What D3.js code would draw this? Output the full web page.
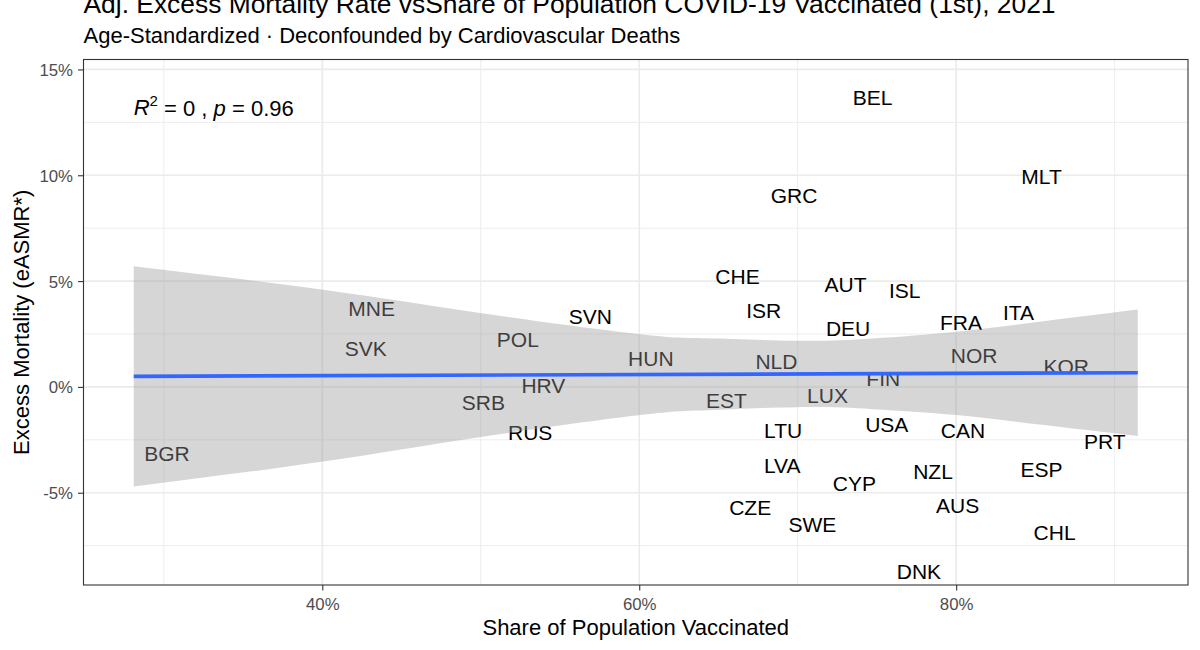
<!DOCTYPE html>
<html><head><meta charset="utf-8">
<script src="https://cdn.jsdelivr.net/npm/d3@7"></script>
<style>
body{margin:0;background:#fff}
svg{display:block;font-family:"Liberation Sans",Arial,Helvetica,sans-serif}
</style>
</head><body><svg id="c" width="1200" height="650"></svg>
<script>
// ---- data ----
const countries = ["BEL","MLT","GRC","CHE","AUT","ISL","ISR","DEU","FRA","ITA","HUN","NLD","NOR","KOR","FIN","EST","LUX","MNE","SVN","POL","SVK","HRV","SRB","RUS","BGR","LTU","USA","CAN","PRT","LVA","NZL","ESP","CYP","CZE","AUS","SWE","CHL","DNK"];
const vaccinated = [74.72,85.39,69.77,66.20,73.02,76.75,67.86,73.18,80.30,83.93,60.73,68.66,81.13,86.95,75.40,65.50,71.88,43.11,56.92,52.34,42.74,53.95,50.16,53.12,30.20,69.08,75.62,80.43,89.38,69.02,78.54,85.39,73.58,67.00,80.09,70.93,86.21,77.65];
const excess = [13.69,9.93,9.05,5.21,4.85,4.58,3.60,2.77,3.03,3.51,1.35,1.22,1.47,0.95,0.41,-0.62,-0.38,3.71,3.32,2.22,1.82,0.09,-0.75,-2.15,-3.14,-2.07,-1.75,-2.04,-2.60,-3.69,-4.01,-3.89,-4.56,-5.69,-5.58,-6.49,-6.89,-8.72];
const fitX = [28.1, 91.46];
const fitY = [0.50, 0.67];
const bandX  = [28.1, 40.06, 50.07, 60.04, 64.25, 69.92, 74.73, 80.01, 85.26, 91.46];
const bandHi = [5.70, 4.59, 3.48, 2.49, 2.30, 2.18, 2.29, 2.61, 3.08, 3.66];
const bandLo = [-4.70, -3.53, -2.36, -1.33, -1.10, -0.96, -1.05, -1.33, -1.78, -2.32];
const xTicks = [40, 60, 80];
const xMinor = [30, 50, 70, 90];
const yTicks = [-5, 0, 5, 10, 15];
const yMinor = [-7.5, -2.5, 2.5, 7.5, 12.5];
const xDomain = [24.93, 94.63];
const yDomain = [-9.36, 15.47];
const statPos = [28.1, 13.2];
const statR2 = "0", statP = "0.96";
const titleText = "Adj. Excess Mortality Rate vsShare of Population COVID-19 Vaccinated (1st), 2021";
const subtitleText = "Age-Standardized \u00b7 Deconfounded by Cardiovascular Deaths";
const xTitle = "Share of Population Vaccinated";
const yTitle = "Excess Mortality (eASMR*)";

// ---- layout ----
const P = {l: 83.5, r: 1188, t: 59.5, b: 585};
const svg = d3.select("#c");
const x = d3.scaleLinear().domain(xDomain).range([P.l, P.r]);
const y = d3.scaleLinear().domain(yDomain).range([P.b, P.t]);
const pct = d => d + "%";

svg.append("rect").attr("x", P.l).attr("y", P.t).attr("width", P.r - P.l).attr("height", P.b - P.t).attr("fill", "#fff");

const grid = svg.append("g");
grid.selectAll(".vmin").data(xMinor).join("line")
  .attr("x1", d => x(d)).attr("x2", d => x(d)).attr("y1", P.t).attr("y2", P.b)
  .attr("stroke", "#EBEBEB").attr("stroke-width", 0.9);
grid.selectAll(".hmin").data(yMinor).join("line")
  .attr("y1", d => y(d)).attr("y2", d => y(d)).attr("x1", P.l).attr("x2", P.r)
  .attr("stroke", "#EBEBEB").attr("stroke-width", 0.9);
grid.selectAll(".vmaj").data(xTicks).join("line")
  .attr("x1", d => x(d)).attr("x2", d => x(d)).attr("y1", P.t).attr("y2", P.b)
  .attr("stroke", "#EBEBEB").attr("stroke-width", 1.7);
grid.selectAll(".hmaj").data(yTicks).join("line")
  .attr("y1", d => y(d)).attr("y2", d => y(d)).attr("x1", P.l).attr("x2", P.r)
  .attr("stroke", "#EBEBEB").attr("stroke-width", 1.7);

// country labels
const rows = countries.map((c, i) => ({c, v: vaccinated[i], e: excess[i]}));
svg.append("g").selectAll("text").data(rows).join("text")
  .attr("x", d => x(d.v)).attr("y", d => y(d.e)).attr("dy", "0.36em")
  .attr("text-anchor", "middle").attr("font-size", 21).attr("fill", "#000")
  .text(d => d.c);

// confidence band
const band = bandX.map((bx, i) => ({x: bx, lo: bandLo[i], hi: bandHi[i]}));
svg.append("path").datum(band)
  .attr("d", d3.area().x(d => x(d.x)).y0(d => y(d.lo)).y1(d => y(d.hi)).curve(d3.curveNatural))
  .attr("fill", "#999999").attr("fill-opacity", 0.4);

// regression line
svg.append("path").datum(fitX.map((fx, i) => [fx, fitY[i]]))
  .attr("d", d3.line().x(d => x(d[0])).y(d => y(d[1])))
  .attr("stroke", "#3366FF").attr("stroke-width", 3.7).attr("fill", "none");

// stat label
const st = svg.append("text").attr("x", x(statPos[0])).attr("y", y(statPos[1])).attr("dy", "0.36em")
  .attr("font-size", 22).attr("fill", "#000");
st.append("tspan").attr("font-style", "italic").text("R");
st.append("tspan").attr("font-size", 15).attr("dy", "-0.62em").text("2");
st.append("tspan").attr("dy", "0.43em").text("\u00a0= 0 , ");
st.append("tspan").attr("font-style", "italic").text("p");
st.append("tspan").text("\u00a0= " + statP);

// panel border
svg.append("rect").attr("x", P.l).attr("y", P.t).attr("width", P.r - P.l).attr("height", P.b - P.t)
  .attr("fill", "none").attr("stroke", "#333333").attr("stroke-width", 1.1);

// axes
const xAxis = svg.append("g").attr("transform", `translate(0,${P.b})`)
  .call(d3.axisBottom(x).tickValues(xTicks).tickFormat(pct).tickSize(5.5).tickPadding(6));
const yAxis = svg.append("g").attr("transform", `translate(${P.l},0)`)
  .call(d3.axisLeft(y).tickValues(yTicks).tickFormat(pct).tickSize(5.5).tickPadding(5));
[xAxis, yAxis].forEach(a => {
  a.select(".domain").remove();
  a.selectAll(".tick line").attr("stroke", "#333333").attr("stroke-width", 1.1);
  a.selectAll(".tick text").attr("fill", "#4D4D4D").attr("font-size", 16.8)
   .attr("font-family", "'Liberation Sans',Arial,Helvetica,sans-serif");
});
xAxis.selectAll(".tick text").attr("dy", null).attr("y", 0).attr("transform", "translate(0,25.3)");
yAxis.selectAll(".tick text").attr("dy", "0.36em");

// titles
svg.append("text").attr("x", (P.l + P.r) / 2).attr("y", 635).attr("text-anchor", "middle")
  .attr("font-size", 22).attr("fill", "#000").text(xTitle);
svg.append("text").attr("transform", `translate(29,${(P.t + P.b) / 2}) rotate(-90)`).attr("text-anchor", "middle")
  .attr("font-size", 22).attr("fill", "#000").text(yTitle);
svg.append("text").attr("x", P.l).attr("y", 12.7).attr("font-size", 26.4).attr("fill", "#000").text(titleText);
svg.append("text").attr("x", P.l).attr("y", 42.7).attr("font-size", 22).attr("fill", "#000").text(subtitleText);
</script></body></html>
